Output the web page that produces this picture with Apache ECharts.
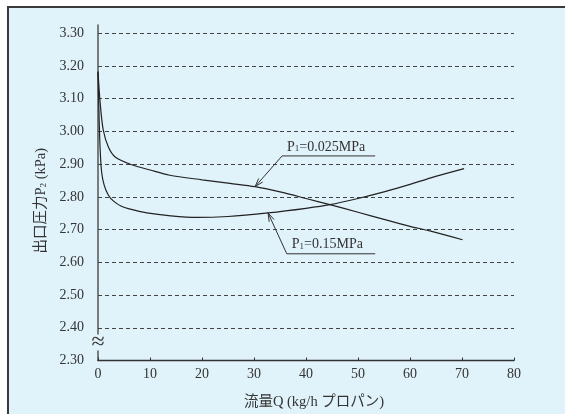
<!DOCTYPE html>
<html>
<head>
<meta charset="utf-8">
<script src="https://cdn.jsdelivr.net/npm/echarts@6/dist/echarts.min.js"></script>
<style>
html,body{margin:0;padding:0;background:#fff;}
#chart{width:565px;height:414px;}
</style>
</head>
<body>
<div id="chart"></div>
<script>
// ---- data ----
const xTicks = [0, 10, 20, 30, 40, 50, 60, 70, 80];
const yTicks = [2.30, 2.40, 2.50, 2.60, 2.70, 2.80, 2.90, 3.00, 3.10, 3.20, 3.30];
const gridValues = [2.40, 2.50, 2.60, 2.70, 2.80, 2.90, 3.00, 3.10, 3.20, 3.30];

// P1 = 0.025 MPa
const q025 = [0, 0.4, 1, 2, 3.3, 6.5, 10, 13.8, 20, 25.4, 30.2, 35, 40, 44.6, 50, 55, 60, 63.8, 70.1];
const p025 = [3.183, 3.09, 3.005, 2.952, 2.922, 2.898, 2.882, 2.866, 2.852, 2.841, 2.831, 2.815, 2.795, 2.776, 2.753, 2.731, 2.71, 2.696, 2.669];

// P1 = 0.15 MPa
const q015 = [0, 0.2, 0.4, 0.7, 1.2, 2, 3, 4.5, 6, 9.4, 14, 19, 25, 32.7, 40, 44.6, 50, 55, 60, 64, 70.4];
const p015 = [3.18, 3.05, 2.95, 2.875, 2.835, 2.805, 2.787, 2.771, 2.763, 2.751, 2.742, 2.737, 2.740, 2.751, 2.765, 2.776, 2.795, 2.815, 2.838, 2.858, 2.886];

// annotations (data coords): tip, elbow, end of underline
const annotLabels = ['P{s|1}=0.025MPa', 'P{s|1}=0.15MPa'];
const annotTips = [[30.2, 2.831], [32.7, 2.751]];
const annotElbows = [[35.4, 2.925], [36.3, 2.626]];
const annotEnds = [[53.3, 2.925], [53.3, 2.626]];

const breakAt = [0, 2.355];

// ---- chart ----
const SERIF = '"Liberation Serif", "DejaVu Serif", "Noto Sans CJK JP", serif';
const BG = '#e0f2fa';
const INK = '#333';

const chart = echarts.init(document.getElementById('chart'), null, {renderer: 'canvas'});

function pairs(xs, ys) { return xs.map((x, i) => [x, ys[i]]); }

const option = {
  animation: false,
  backgroundColor: 'transparent',
  grid: {left: 98, right: 51, top: 25, bottom: 53},
  xAxis: {
    type: 'value', min: xTicks[0], max: xTicks[xTicks.length - 1], interval: 10,
    axisLine: {lineStyle: {color: INK, width: 1.3}},
    axisTick: {inside: true, length: 3, lineStyle: {color: INK}},
    splitLine: {show: false},
    axisLabel: {color: INK, fontFamily: SERIF, fontSize: 14, margin: 7},
    name: '流量Q (kg/h プロパン)',
    nameLocation: 'middle', nameGap: 34,
    nameTextStyle: {color: INK, fontFamily: SERIF, fontSize: 14.5, padding: [0, 0, 0, 16]}
  },
  yAxis: {
    type: 'value', min: yTicks[0], max: 3.325, interval: 0.1,
    axisLine: {show: true, lineStyle: {color: '#555', width: 1.5}},
    axisTick: {show: false},
    splitLine: {show: false},
    axisLabel: {
      color: INK, fontFamily: SERIF, fontSize: 14, margin: 14,
      formatter: v => yTicks.some(t => Math.abs(t - v) < 1e-6) ? v.toFixed(2) : ''
    },
    name: '出口圧力P{s|2} (kPa)',
    nameLocation: 'middle', nameGap: 49,
    nameTextStyle: {color: INK, fontFamily: SERIF, fontSize: 14.5, padding: [0, 16, 0, 0],
      rich: {s: {fontSize: 9, fontFamily: SERIF, color: INK, padding: [5, 0, 0, 0]}}}
  },
  series: [
    {
      type: 'line', data: pairs(q025, p025), symbol: 'none', smooth: 0.3,
      lineStyle: {color: '#222', width: 1.2}, z: 5,
      markLine: {
        silent: true, symbol: 'none', label: {show: false},
        lineStyle: {color: '#444', type: [4, 3], width: 1},
        data: gridValues.map(v => ({yAxis: v}))
      }
    },
    {
      type: 'line', data: pairs(q015, p015), symbol: 'none', smooth: 0.3,
      lineStyle: {color: '#222', width: 1.2}, z: 5
    }
  ]
};
chart.setOption(option);

// ---- frame, break mark and annotations ----
const graphics = [
  {type: 'rect', shape: {x: 8, y: 7, width: 700, height: 600},
   style: {fill: BG, stroke: '#3a3a3a', lineWidth: 2}, z: -100, silent: true}
];

const bp = chart.convertToPixel({gridIndex: 0}, breakAt);
graphics.push({type: 'text', x: bp[0], y: bp[1], z: 50,
  style: {text: '≈', fontSize: 24, fontFamily: SERIF, fill: INK, align: 'center', verticalAlign: 'middle',
          backgroundColor: BG, padding: [-4, 0, -4, 0]}});

annotLabels.forEach((lab, i) => {
  const tip = chart.convertToPixel({gridIndex: 0}, annotTips[i]);
  const el = chart.convertToPixel({gridIndex: 0}, annotElbows[i]);
  const en = chart.convertToPixel({gridIndex: 0}, annotEnds[i]);
  graphics.push({type: 'polyline', z: 20, shape: {points: [tip, el, en]},
    style: {stroke: '#333', lineWidth: 1, fill: null}});
  const dx = el[0] - tip[0], dy = el[1] - tip[1];
  const len = Math.hypot(dx, dy), ux = dx / len, uy = dy / len;
  const L = 9, a = 0.3;
  const p1 = [tip[0] + L * (ux * Math.cos(a) - uy * Math.sin(a)), tip[1] + L * (ux * Math.sin(a) + uy * Math.cos(a))];
  const p2 = [tip[0] + L * (ux * Math.cos(-a) - uy * Math.sin(-a)), tip[1] + L * (ux * Math.sin(-a) + uy * Math.cos(-a))];
  graphics.push({type: 'polyline', z: 20, shape: {points: [p1, tip, p2]},
    style: {stroke: '#333', lineWidth: 1, fill: null}});
  graphics.push({type: 'text', z: 20, x: el[0] + 5, y: el[1] - 2,
    style: {text: lab, fontFamily: SERIF, fontSize: 14, fill: INK, align: 'left', verticalAlign: 'bottom',
      rich: {s: {fontSize: 9, fontFamily: SERIF, fill: INK, padding: [4, 0, 0, 0]}}}});
});

chart.setOption({graphic: graphics});
</script>
</body>
</html>
